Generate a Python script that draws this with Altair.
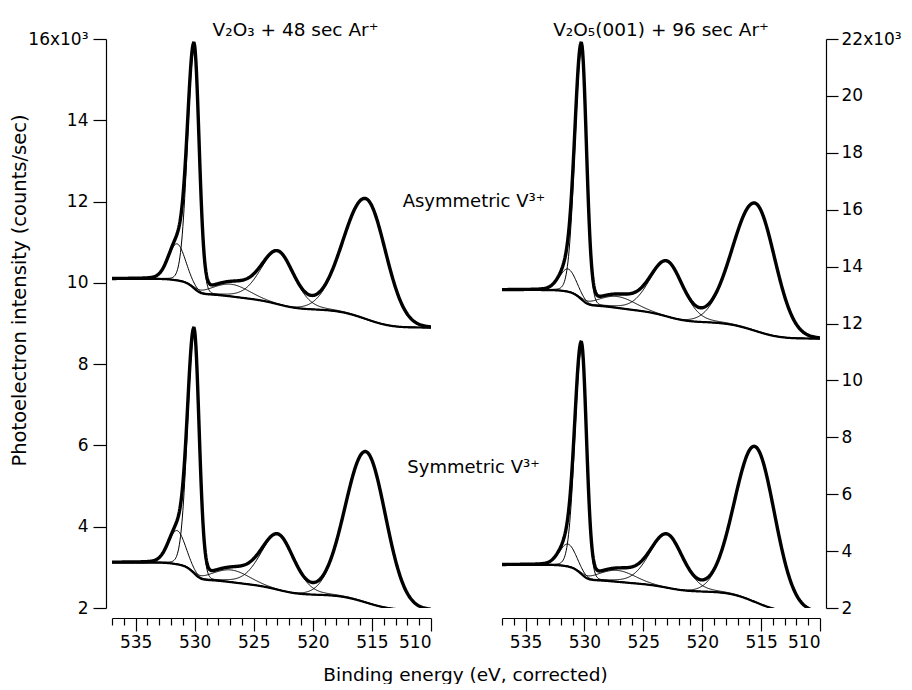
import numpy as np
import pandas as pd
import altair as alt

# ---------------- data ----------------
# binding-energy grid (eV)
E = np.round(np.arange(510.0, 537.0001, 0.05), 3)

# fit components: O1s shoulder, O1s, satellite, V2p1/2, V2p3/2
comp_names = ["O1s shoulder", "O1s", "satellite", "V2p1/2", "V2p3/2"]
left_centers = [531.5, 530.05, 526.9, 522.95, 515.5]
right_centers = [531.4, 530.25, 527.2, 523.0, 515.5]
asym_fwhm_high = [1.7, 1.3, 3.6, 3.4, 4.5]    # high-BE side
sym_fwhm_high = [1.7, 1.3, 3.6, 3.4, 4.1]
fwhm_low = [1.7, 1.0, 3.6, 3.2, 3.9]          # low-BE side
lor_mix = [0.1, 0.05, 0.0, 0.2, 0.0]

# intensities in 10^3 counts/sec
ul_amps = [0.90, 5.85, 0.30, 1.30, 2.95]   # V2O3, asymmetric
ul_steps = [0.07, 0.30, 0.12, 0.27, 0.44]
ul_end = 8.90
ll_amps = [0.83, 5.86, 0.30, 1.36, 3.70]   # V2O3, symmetric
ll_steps = [0.08, 0.34, 0.12, 0.26, 0.37]
ll_end = 1.95
ur_amps = [0.80, 8.70, 0.40, 1.94, 4.47]   # V2O5(001), asymmetric
ur_steps = [0.10, 0.43, 0.19, 0.42, 0.57]
ur_end = 11.47
lr_amps = [0.79, 7.85, 0.40, 1.88, 5.45]   # V2O5(001), symmetric
lr_steps = [0.10, 0.43, 0.13, 0.29, 0.72]
lr_end = 1.85

ann_text = ["Asymmetric V³⁺", "Symmetric V³⁺"]
ann_E = [512.4, 512.0]
ann_val = [12.0, 5.45]

left_ticks = [2, 4, 6, 8, 10, 12, 14, 16]
right_ticks = [2, 4, 6, 8, 10, 12, 14, 16, 18, 20, 22]
x_ticks = list(range(510, 538))


def profile(c, wh, wl, eta):
    d = E - c
    w = np.where(d >= 0, wh, wl)
    x = d / w
    return (1 - eta) * np.exp(-4 * np.log(2) * x * x) + eta / (1 + 4 * x * x)


def build(row, centers, whigh, amps, steps, end):
    profs = [a * profile(c, wh, wl, et)
             for c, a, wh, wl, et in zip(centers, amps, whigh, fwhm_low, lor_mix)]
    bg = end + sum(s * np.cumsum(p) / p.sum() for s, p in zip(steps, profs))
    frames = []
    total = bg + sum(profs)
    frames.append(pd.DataFrame({"E": E, "v": total, "kind": "data", "curve": row + "data"}))
    frames.append(pd.DataFrame({"E": E, "v": bg, "kind": "bg", "curve": row + "bg"}))
    for n, p in zip(comp_names, profs):
        frames.append(pd.DataFrame({"E": E, "v": bg + p, "kind": "comp", "curve": row + n}))
    return pd.concat(frames, ignore_index=True)


left_df = pd.concat([build("asym", left_centers, asym_fwhm_high, ul_amps, ul_steps, ul_end),
                     build("sym", left_centers, sym_fwhm_high, ll_amps, ll_steps, ll_end)])
right_df = pd.concat([build("asym", right_centers, asym_fwhm_high, ur_amps, ur_steps, ur_end),
                      build("sym", right_centers, sym_fwhm_high, lr_amps, lr_steps, lr_end)])
ann_df = pd.DataFrame({"E": ann_E, "v": ann_val, "t": ann_text})

FONT = "DejaVu Sans"
FS = 17


def panel(df, ydom, yticks, yorient, top_label, title, title_dx, xtitle):
    xaxis = alt.Axis(values=x_ticks,
                     labelExpr="datum.value % 5 === 0 ? datum.label : ''",
                     tickSize={"condition": {"test": "datum.value % 5 === 0", "value": 13}, "value": 7},
                     offset=10, grid=False, labelOverlap=False, labelFontSize=FS,
                     labelPadding=3, domainColor="black", tickColor="black",
                     labelColor="black", tickWidth=1.2, domainWidth=1.2,
                     title=xtitle if xtitle else None,
                     **({"titleX": 353, "titleFontSize": 18.5, "titleFontWeight": "normal",
                         "titlePadding": 15, "titleColor": "black"} if xtitle else {}))
    yaxis = alt.Axis(values=yticks, orient=yorient, offset=6, grid=False,
                     labelExpr=f"datum.value == {top_label} ? '{top_label}x10³' : datum.label",
                     tickSize=13 if yorient == "left" else 12, labelFontSize=FS,
                     labelPadding=5 if yorient == "left" else 3,
                     domainColor="black", tickColor="black", labelColor="black",
                     tickWidth=1.2, domainWidth=1.2,
                     title="Photoelectron intensity (counts/sec)" if yorient == "left" else None,
                     **({"titleFontSize": 19.5, "titleFontWeight": "normal", "titleX": -77,
                         "titleY": 251, "titleColor": "black"} if yorient == "left" else {}))
    xs = alt.X("E:Q", scale=alt.Scale(domain=[537, 510], nice=False, zero=False), axis=xaxis)
    ys = alt.Y("v:Q", scale=alt.Scale(domain=ydom, nice=False, zero=False), axis=yaxis)
    base = alt.Chart(df)
    comps = base.transform_filter("datum.kind == 'comp'").mark_line(
        color="black", strokeWidth=1.0, clip=True).encode(x=xs, y=ys, detail="curve:N")
    bgl = base.transform_filter("datum.kind == 'bg'").mark_line(
        color="black", strokeWidth=2.2, clip=True).encode(x=xs, y=ys, detail="curve:N")
    data = base.transform_filter("datum.kind == 'data'").mark_line(
        color="black", strokeWidth=3.4, clip=True).encode(x=xs, y=ys, detail="curve:N")
    layers = [comps, bgl, data]
    if yorient == "left":
        txt = alt.Chart(ann_df).mark_text(align="left", baseline="middle", fontSize=18,
                                          font=FONT, color="black", clip=False).encode(
            x=xs, y=ys, text="t:N")
        layers.append(txt)
    return alt.layer(*layers).properties(
        width=319 if yorient == "left" else 318, height=569,
        title=alt.TitleParams(title, fontSize=18.5, fontWeight="normal", font=FONT,
                              anchor="middle", dx=title_dx, offset=-9, color="black"))


left = panel(left_df, [2, 16], left_ticks, "left", 16,
             "V₂O₃ + 48 sec Ar⁺", 24, "Binding energy (eV, corrected)")
right = panel(right_df, [2, 22], right_ticks, "right", 22,
              "V₂O₅(001) + 96 sec Ar⁺", 0, None)

chart = alt.hconcat(left, right, spacing=71, bounds="flush").properties(
    padding={"left": 0, "top": 12, "right": 0, "bottom": 0}
).configure(font=FONT).configure_view(stroke=None).configure_axis(
    labelFont=FONT, titleFont=FONT)

chart.save("out.html", embed_options={"renderer": "svg", "actions": False})
